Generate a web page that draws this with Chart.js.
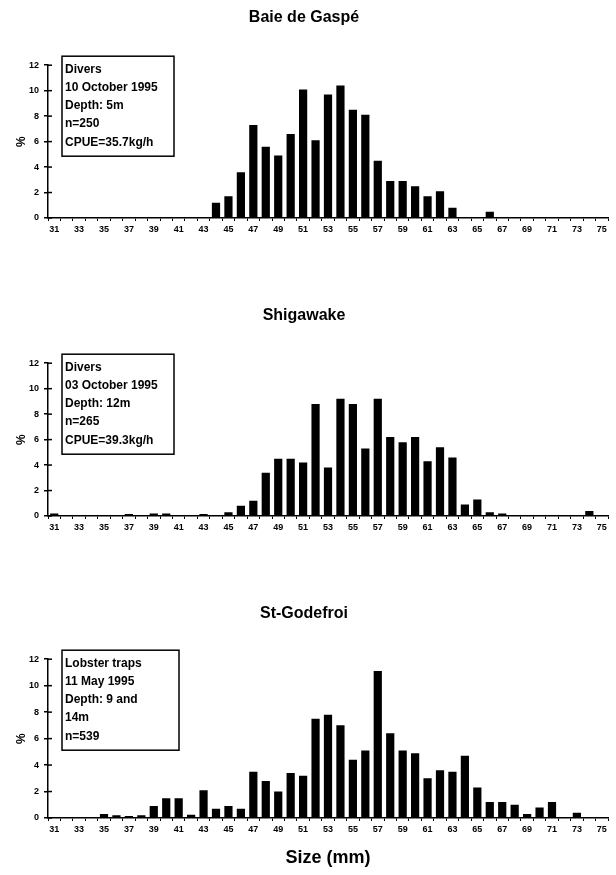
<!DOCTYPE html>
<html>
<head>
<meta charset="utf-8">
<script src="https://cdn.jsdelivr.net/npm/chart.js@4.4.0/dist/chart.umd.min.js"></script>
<style>
  body { margin: 0; background: #fff; }
  .wrap { position: relative; width: 616px; height: 875px; }
  canvas { position: absolute; left: 0; }
</style>
</head>
<body>
<div class="wrap">
  <canvas id="c1" width="616" height="250" style="top:0px"></canvas>
  <canvas id="c2" width="616" height="250" style="top:298px"></canvas>
  <canvas id="c3" width="616" height="281" style="top:594px"></canvas>
</div>
<script>
const sizes = [31,32,33,34,35,36,37,38,39,40,41,42,43,44,45,46,47,48,49,50,51,52,53,54,55,56,57,58,59,60,61,62,63,64,65,66,67,68,69,70,71,72,73,74,75];
const xTickLabels = [31,33,35,37,39,41,43,45,47,49,51,53,55,57,59,61,63,65,67,69,71,73,75];
const yTicks = [0,2,4,6,8,10,12];

// % of catch per size class (mm)
const gaspe = [0,0,0,0,0,0,0,0,0,0,0,0,0,1.2,1.7,3.6,7.3,5.6,4.9,6.6,10.1,6.1,9.7,10.4,8.5,8.1,4.5,2.9,2.9,2.5,1.7,2.1,0.8,0,0,0.5,0,0,0,0,0,0,0,0,0];
const shigawake = [0.2,0,0,0,0,0,0.15,0,0.2,0.2,0,0,0.15,0,0.3,0.8,1.2,3.4,4.5,4.5,4.2,8.8,3.8,9.2,8.8,5.3,9.2,6.2,5.8,6.2,4.3,5.4,4.6,0.9,1.3,0.3,0.2,0,0,0,0,0,0,0.4,0];
const stGodefroi = [0,0,0,0,0.3,0.2,0.15,0.2,0.9,1.5,1.5,0.25,2.1,0.7,0.9,0.7,3.5,2.8,2.0,3.4,3.2,7.5,7.8,7.0,4.4,5.1,11.1,6.4,5.1,4.9,3.0,3.6,3.5,4.7,2.3,1.2,1.2,1.0,0.3,0.8,1.2,0,0.4,0,0];

const gaspeNotes = ["Divers", "10 October 1995", "Depth: 5m", "n=250", "CPUE=35.7kg/h"];
const shigawakeNotes = ["Divers", "03 October 1995", "Depth: 12m", "n=265", "CPUE=39.3kg/h"];
const stGodefroiNotes = ["Lobster traps", "11 May 1995", "Depth: 9 and", "14m", "n=539"];

const FONT = '"Liberation Sans", Arial, sans-serif';
Chart.defaults.font.family = FONT;
Chart.defaults.color = '#000';

const noteBox = {
  id: 'noteBox',
  afterDraw(chart, args, opts) {
    const { ctx, chartArea } = chart;
    const x = chartArea.left + 14, y = chartArea.top - 9;
    ctx.save();
    ctx.fillStyle = '#fff';
    ctx.fillRect(x, y, opts.width, 100);
    ctx.lineWidth = 1.5;
    ctx.strokeStyle = '#000';
    ctx.strokeRect(x, y, opts.width, 100);
    ctx.font = 'bold 12px ' + FONT;
    ctx.fillStyle = '#000';
    ctx.textBaseline = 'middle';
    opts.lines.forEach((t, i) => ctx.fillText(t, x + 3, y + 13 + i * 18.3));
    ctx.restore();
  }
};

// y-axis tick marks cross the axis line
const innerTicks = {
  id: 'innerTicks',
  afterDraw(chart) {
    const { ctx } = chart;
    const ys = chart.scales.y;
    ctx.save();
    ctx.strokeStyle = '#000';
    ctx.lineWidth = 1.5;
    ys.ticks.forEach((t, i) => {
      const py = ys.getPixelForTick(i);
      ctx.beginPath();
      ctx.moveTo(ys.right, py);
      ctx.lineTo(ys.right + 4, py);
      ctx.stroke();
    });
    ctx.restore();
  }
};

function makeChart(id, title, values, notes, noteWidth, titlePad, xHeight, xTitle) {
  return new Chart(document.getElementById(id), {
    type: 'bar',
    data: {
      labels: sizes,
      datasets: [{
        data: values,
        backgroundColor: '#000',
        borderWidth: 0,
        barPercentage: 0.66,
        categoryPercentage: 1.0
      }]
    },
    plugins: [noteBox, innerTicks],
    options: {
      responsive: false,
      animation: false,
      layout: { padding: { left: 0, right: 8, top: 0, bottom: 0 } },
      plugins: {
        legend: { display: false },
        tooltip: { enabled: false },
        title: {
          display: true,
          text: title,
          font: { size: 16, weight: 'bold' },
          color: '#000',
          padding: titlePad
        },
        noteBox: { lines: notes, width: noteWidth }
      },
      scales: {
        x: {
          afterFit: s => { s.height = xHeight; },
          border: { display: true, color: '#000', width: 1.5 },
          grid: { drawOnChartArea: false, drawTicks: true, tickLength: 3, color: '#000', lineWidth: 1 },
          ticks: {
            autoSkip: false,
            maxRotation: 0,
            padding: 3,
            font: { size: 9, weight: 'bold' },
            callback: (v, i) => xTickLabels.includes(sizes[i]) ? String(sizes[i]) : ''
          },
          title: {
            display: !!xTitle,
            text: xTitle || '',
            font: { size: 18, weight: 'bold' },
            padding: { top: 3, bottom: 6 }
          }
        },
        y: {
          min: 0,
          max: 12,
          afterFit: s => { s.width = 48; },
          afterBuildTicks: s => { s.ticks = yTicks.map(v => ({ value: v })); },
          border: { display: true, color: '#000', width: 1.5 },
          grid: { drawOnChartArea: false, drawTicks: true, tickLength: 4, color: '#000', lineWidth: 1.5 },
          ticks: { padding: 5, font: { size: 9, weight: 'bold' } },
          title: {
            display: true,
            text: '%',
            font: { size: 12, weight: 'bold' },
            padding: { top: 14, bottom: 0 }
          }
        }
      }
    }
  });
}

makeChart('c1', 'Baie de Gaspé', gaspe, gaspeNotes, 112, { top: 8, bottom: 38 }, 32, null);
makeChart('c2', 'Shigawake', shigawake, shigawakeNotes, 112, { top: 8, bottom: 38 }, 32, null);
makeChart('c3', 'St-Godefroi', stGodefroi, stGodefroiNotes, 117, { top: 10, bottom: 36 }, 57, 'Size (mm)');
</script>
</body>
</html>
